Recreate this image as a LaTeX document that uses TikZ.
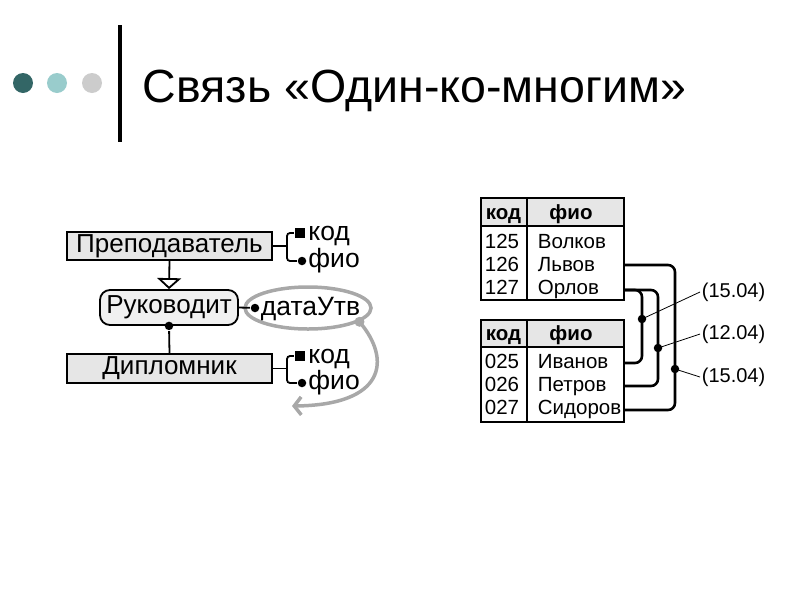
\documentclass[tikz,border=0pt]{standalone}
\usepackage{fontspec}
\setmainfont{Liberation Sans}
\usetikzlibrary{arrows.meta}
\usetikzlibrary{shapes.geometric}
\usetikzlibrary{positioning}

\definecolor{dotdark}{HTML}{336666}
\definecolor{dotlight}{HTML}{99CCCC}
\definecolor{dotgray}{HTML}{CCCCCC}
\definecolor{boxgray}{HTML}{E6E6E6}
\definecolor{ovalgray}{HTML}{A8A8A8}

\tikzset{
  ent/.style={draw, line width=1.8pt, fill=boxgray, minimum width=205pt, minimum height=28pt, inner sep=0pt, font=\fontsize{26}{30}\selectfont},
  rel/.style={draw, line width=1.8pt, fill=boxgray!60, rounded corners=10pt, minimum width=138pt, minimum height=35pt, inner sep=0pt, font=\fontsize{26}{30}\selectfont},
  attr/.style={inner sep=0pt, font=\fontsize{26.5}{30}\selectfont},
  keysq/.style={fill=black, minimum size=10.5pt, inner sep=0pt},
  bdot/.style={circle, fill=black, minimum size=8.5pt, inner sep=0pt},
  cell/.style={inner sep=0pt, font=\fontsize{20.5}{24}\selectfont},
  hcell/.style={inner sep=0pt, font=\fontsize{20.5}{24}\selectfont\bfseries},
  link/.style={line width=2.6pt, rounded corners=7pt},
  datelab/.style={inner sep=1pt, anchor=west, font=\fontsize{20}{24}\selectfont},
}

\begin{document}
\begin{tikzpicture}[x=1pt, y=-1pt, line width=1.8pt]
\useasboundingbox (0,0) rectangle (800,600);

% title
\fill[dotdark] (23,83) circle (10);
\fill[dotlight] (57,83) circle (10);
\fill[dotgray] (92,83) circle (10);
\draw[line width=4.5pt] (120,25) -- (120,142);
\node[anchor=base west, inner sep=0pt, font=\fontsize{46.5}{54}\selectfont] (title) at (142,102) {Связь «Один-ко-многим»};

% entities and relationship
\node[ent] (prep) at (169.5,246) {Преподаватель};
\node[rel] (ruk) at (169,307.5) {Руководит};
\node[ent, minimum height=29pt] (dip) at (169.5,368.5) {Дипломник};

\draw[-{Triangle[open, fill=white, length=11pt, width=24pt]}] (prep.south) -- (ruk.north);
\node[bdot] (rdot) at (ruk.south) {};
\draw (rdot) -- (dip.north);

% attributes of Преподаватель
\coordinate (pj) at (287,246);
\node[keysq] (pk) at (300,233) {};
\node[bdot] (pf) at (302,261) {};
\node[attr, anchor=base west] (pkt) at (307.5,240.5) {код};
\node[attr, anchor=base west] (pft) at (307.5,267.5) {фио};
\draw (prep.east) -- (pj);
\draw[rounded corners=3pt] (pk) -| (pj) |- (pf);

% attributes of Дипломник
\coordinate (dj) at (287,368.5);
\node[keysq] (dk) at (300,356) {};
\node[bdot] (df) at (302,383) {};
\node[attr, anchor=base west] (dkt) at (307.5,363.5) {код};
\node[attr, anchor=base west] (dft) at (307.5,389.5) {фио};
\draw (dip.east) -- (dj);
\draw[rounded corners=3pt] (dk) -| (dj) |- (df);

% attribute of the link
\node[ellipse, draw=ovalgray, line width=3.5pt, minimum width=126pt, minimum height=42pt, inner sep=0pt] (oval) at (308,308) {};
\node[bdot] (udot) at (255,308) {};
\node[attr, anchor=base west] (utv) at (260,315.5) {датаУтв};
\draw (ruk.east) -- (udot);
\node[circle, fill=ovalgray, minimum size=10pt, inner sep=0pt] (odot) at (oval.-15) {};
\draw[draw=ovalgray, line width=3.5pt, -{Straight Barb[length=7pt, width=18pt]}] (odot.center) .. controls (392,360) and (385,405) .. (292,406);

% table of teachers
\fill[boxgray] (481,198) rectangle (624,226);
\draw (481,198) rectangle (624,300);
\draw (481,226) -- (624,226);
\draw (527,198) -- (527,300);
\node[hcell, anchor=base west] (t1h1) at (485,219) {код};
\node[hcell, anchor=base] (t1h2) at (571,219) {фио};
\node[cell, anchor=base west] (n125) at (484,248) {125};
\node[cell, anchor=base west] (n126) at (484,271) {126};
\node[cell, anchor=base west] (n127) at (484,294) {127};
\node[cell, anchor=base west] (volkov) at (537,248) {Волков};
\node[cell, anchor=base west] (lvovt) at (537,271) {Львов};
\node[cell, anchor=base west] (orlovt) at (537,294) {Орлов};

% table of students
\fill[boxgray] (481,320) rectangle (624,347);
\draw (481,320) rectangle (624,422);
\draw (481,347) -- (624,347);
\draw (527,320) -- (527,422);
\node[hcell, anchor=base west] (t2h1) at (485,340) {код};
\node[hcell, anchor=base] (t2h2) at (571,340) {фио};
\node[cell, anchor=base west] (n025) at (484,368) {025};
\node[cell, anchor=base west] (n026) at (484,391) {026};
\node[cell, anchor=base west] (n027) at (484,414) {027};
\node[cell, anchor=base west] (ivanovt) at (537,368) {Иванов};
\node[cell, anchor=base west] (petrovt) at (537,391) {Петров};
\node[cell, anchor=base west] (sidorovt) at (537,414) {Сидоров};

% links between rows
\coordinate (lvov) at (624,265);
\coordinate (orlov) at (624,290);
\coordinate (ivanov) at (624,363);
\coordinate (petrov) at (624,386);
\coordinate (sidorov) at (624,410);
\draw[link] (lvov) -- (675,265) -- (675,410) -- (sidorov);
\draw[link] (orlov) -- (658,290) -- (658,386) -- (petrov);
\draw[link] (orlov) -- (642,290) -- (642,363) -- (ivanov);

% dates
\node[bdot] (d1) at (642,319) {};
\node[bdot] (d2) at (658,348) {};
\node[bdot] (d3) at (675,369) {};
\node[datelab] (lab1) at (700,292) {(15.04)};
\node[datelab] (lab2) at (700,334) {(12.04)};
\node[datelab] (lab3) at (700,377) {(15.04)};
\draw[line width=0.8pt] (d1.center) -- (lab1.west);
\draw[line width=0.8pt] (d2.center) -- (lab2.west);
\draw[line width=0.8pt] (d3.center) -- (lab3.west);

\end{tikzpicture}
\end{document}
